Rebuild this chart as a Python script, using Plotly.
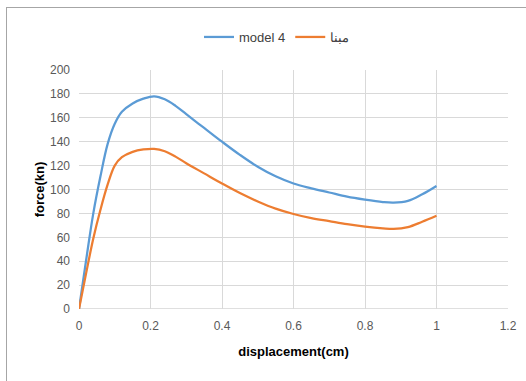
import plotly.graph_objects as go

disp = [0, 0.02, 0.04, 0.06, 0.08, 0.1, 0.12, 0.15, 0.18, 0.21, 0.24, 0.27, 0.3, 0.35, 0.4,
        0.45, 0.5, 0.55, 0.6, 0.65, 0.7, 0.75, 0.8, 0.85, 0.88, 0.92, 0.96, 1.0]
model4 = [0, 41, 80, 111, 138, 155, 165, 172, 176, 178, 175.5, 170, 163, 151.5, 140,
          129, 119, 111, 105, 101, 97.5, 94, 91.5, 89.5, 89, 90.5, 96, 103]
mabna = [0, 30, 59, 83, 104, 120, 127, 131.5, 133.5, 134, 132, 127.5, 122, 113.5, 105,
         97, 90, 84, 79.5, 76, 73.5, 71, 69, 67.5, 67, 68.5, 73, 78]

W, H = 526, 381
L, R, T, B = 79, 18, 70, 72
pw, ph = W - L - R, H - T - B

fig = go.Figure()
fig.add_trace(go.Scatter(x=disp, y=model4, mode="lines", name="model 4",
                         line=dict(color="#5B9BD5", width=2.25, shape="spline", smoothing=1)))
fig.add_trace(go.Scatter(x=disp, y=mabna, mode="lines", name="مبنا",
                         line=dict(color="#ED7D31", width=2.25, shape="spline", smoothing=1)))

def px2paper_x(p):
    return (p - L) / pw

def px2paper_y(p):
    return (H - B - p) / ph

fig.add_shape(type="line", xref="paper", yref="y", x0=0, x1=1, y0=0, y1=0,
              line=dict(color="#BFBFBF", width=1), layer="below")

fig.update_layout(
    width=W, height=H,
    margin=dict(l=L, r=R, t=T, b=B, autoexpand=False),
    paper_bgcolor="white", plot_bgcolor="white",
    font=dict(family="Liberation Sans, Arial, sans-serif", size=12, color="#595959"),
    showlegend=True,
    legend=dict(orientation="h", x=px2paper_x(277), y=px2paper_y(37), xanchor="center", yanchor="middle",
                font=dict(size=13, color="#404040"), itemwidth=30),
    xaxis=dict(range=[0, 1.2], tickvals=[0, 0.2, 0.4, 0.6, 0.8, 1, 1.2],
               ticktext=["0", "0.2", "0.4", "0.6", "0.8", "1", "1.2"],
               showgrid=True, gridcolor="#D9D9D9", gridwidth=1,
               zeroline=False, showline=False, ticks="", ticklabelstandoff=8,
               title=dict(text="<b>displacement(cm)</b>", font=dict(size=13, color="#000000"), standoff=14)),
    yaxis=dict(range=[0, 200], tickvals=list(range(0, 201, 20)),
               showgrid=True, gridcolor="#D9D9D9", gridwidth=1,
               zeroline=False, showline=False, ticks="", ticklabelstandoff=8,
               title=dict(text="<b>force(kn)</b>", font=dict(size=13, color="#000000"), standoff=2)),
)

frame_js = (
    "document.body.style.margin='0';"
    "document.body.style.overflow='hidden';"
    "var fr=document.createElement('div');"
    "fr.style.cssText='position:absolute;left:6px;top:7px;width:519px;height:373px;"
    "border-top:1.5px solid #A6A6A6;border-left:1.5px solid #A6A6A6;pointer-events:none;z-index:10;';"
    "document.body.appendChild(fr);"
)

fig.write_html("out.html", config={"displayModeBar": False}, post_script=frame_js)
